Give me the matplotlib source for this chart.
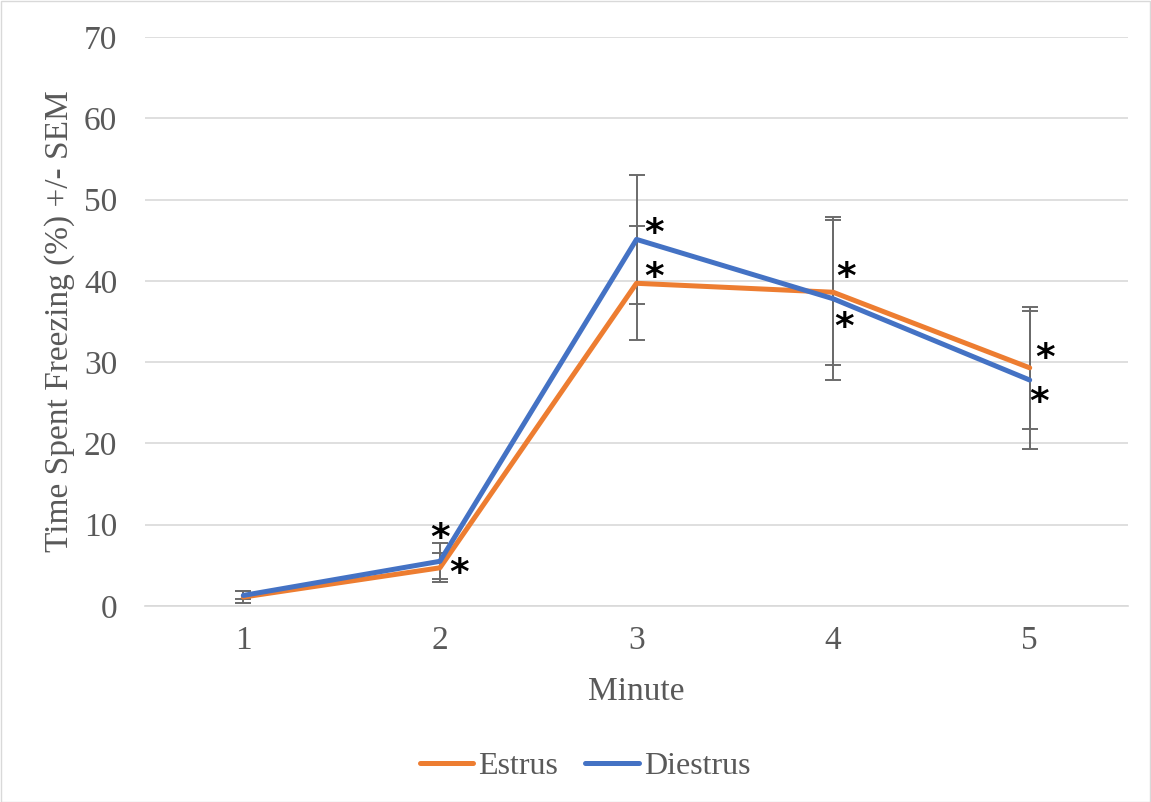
import matplotlib
matplotlib.use("Agg")
import matplotlib.pyplot as plt
from matplotlib.patches import Rectangle

minutes = [1, 2, 3, 4, 5]
estrus = [1.1, 4.7, 39.7, 38.6, 29.3]
estrus_sem = [0.7, 1.8, 7.0, 8.9, 7.5]
diestrus = [1.3, 5.5, 45.1, 37.8, 27.8]
diestrus_sem = [0.5, 2.2, 7.9, 10.0, 8.5]
yticks = [0, 10, 20, 30, 40, 50, 60, 70]

# asterisk offsets (in data units) relative to each point: (dx, dy)
est_star = [None, (0.10, -0.8), (0.09, 0.6), (0.066, 1.7), (0.08, 1.1)]
die_star = [None, (0.0, 2.7), (0.09, 0.7), (0.056, -3.6), (0.05, -2.8)]

plt.rcParams['font.family'] = ['Liberation Serif', 'DejaVu Serif']

W, H = 1151, 802
fig = plt.figure(figsize=(W / 100, H / 100), dpi=100)
ax = fig.add_axes([145 / W, 1 - 606 / H, (1128 - 145) / W, (606 - 37) / H])

orange = '#ED7D31'
blue = '#4472C4'
gray = '#595959'

ax.errorbar(minutes, estrus, yerr=estrus_sem, fmt='none', ecolor='#6b6b6b',
            elinewidth=1.4, capsize=6, capthick=1.4, zorder=2)
ax.errorbar(minutes, diestrus, yerr=diestrus_sem, fmt='none', ecolor='#6b6b6b',
            elinewidth=1.4, capsize=6, capthick=1.4, zorder=2)
ax.plot(minutes, estrus, color=orange, lw=3.6, solid_capstyle='round',
        solid_joinstyle='round', label='Estrus', zorder=3)
ax.plot(minutes, diestrus, color=blue, lw=3.6, solid_capstyle='round',
        solid_joinstyle='round', label='Diestrus', zorder=4)

for x, y, off in zip(minutes, estrus, est_star):
    if off:
        ax.text(x + off[0], y + off[1], '*', fontsize=27, fontweight='bold',
                family='DejaVu Sans', ha='center', va='center', zorder=5)
for x, y, off in zip(minutes, diestrus, die_star):
    if off:
        ax.text(x + off[0], y + off[1], '*', fontsize=27, fontweight='bold',
                family='DejaVu Sans', ha='center', va='center', zorder=5)

ax.set_xlim(0.5, 5.5)
ax.set_ylim(0, 70)
ax.set_yticks(yticks)
ax.set_xticks(minutes)
ax.grid(axis='y', color='#D9D9D9', lw=1.2)
ax.set_axisbelow(True)
for s in ['top', 'right', 'left']:
    ax.spines[s].set_visible(False)
ax.spines['bottom'].set_color('#D9D9D9')
ax.spines['bottom'].set_linewidth(1.2)
ax.tick_params(length=0, labelsize=24, labelcolor=gray)
ax.tick_params(axis='y', pad=20)
ax.tick_params(axis='x', pad=14)

ax.set_xlabel('Minute', fontsize=24, color=gray)
ax.xaxis.label.set_va('baseline')
ax.xaxis.set_label_coords(0.5, -(700 - 606) / 569)
ax.set_ylabel('Time Spent Freezing (%) +/- SEM', fontsize=24, color=gray)
ax.yaxis.label.set_va('center')
ax.yaxis.set_label_coords((60 - 145) / 983, 0.5)

leg = fig.legend(loc='center', bbox_to_anchor=(585 / W, 1 - 766 / H), ncol=2,
                 frameon=False, fontsize=23, handlelength=1.68,
                 handletextpad=0.15, columnspacing=0.85)
for t in leg.get_texts():
    t.set_color(gray)

fig.patches.append(Rectangle((0.5 / W, 0.5 / H), 1 - 1.5 / W, 1 - 1.5 / H,
                             transform=fig.transFigure, fill=False,
                             edgecolor='#D9D9D9', lw=1.0))

fig.savefig('out.png', dpi=100, facecolor='white')
